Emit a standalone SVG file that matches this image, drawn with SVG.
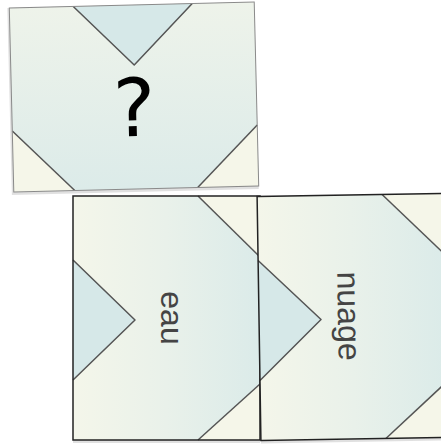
<svg xmlns="http://www.w3.org/2000/svg" width="441" height="445" viewBox="0 0 441 445">
<defs>
<linearGradient id="gh" x1="0" y1="0" x2="1" y2="0">
<stop offset="0" stop-color="#f4f6ea"/>
<stop offset="0.5" stop-color="#e9f1ea"/>
<stop offset="1" stop-color="#dbebe9"/>
</linearGradient>
<linearGradient id="gv" x1="0" y1="0" x2="0" y2="1">
<stop offset="0" stop-color="#eef3ea"/>
<stop offset="1" stop-color="#dcebe9"/>
</linearGradient>
</defs>
<style>
.cream{fill:#f5f6e9}
.tri{fill:#d6e8e8}
.diag{fill:none;stroke:#555;stroke-width:1.5;stroke-linejoin:round}
.lbl{font-family:"Liberation Sans",Arial,sans-serif;font-size:32px;fill:#444;text-anchor:middle}
.shadow{fill:#000;opacity:0.12}
</style>
<g id="tile-top" transform="rotate(-1.4 134 97)">
<rect class="shadow" x="9.5" y="5" width="247" height="187"/>
<rect x="11.5" y="5" width="245" height="184" fill="url(#gv)"/>
<polygon class="cream" points="11.5,128 72.5,189 11.5,189"/>
<polygon class="cream" points="256.5,128 195.5,189 256.5,189"/>
<polygon class="tri" points="75.5,5 194.5,5 135,65"/>
<polyline class="diag" points="75.5,5 135,65 194.5,5"/>
<line class="diag" x1="11.5" y1="128" x2="72.5" y2="189"/>
<line class="diag" x1="256.5" y1="128" x2="195.5" y2="189"/>
<rect x="11.5" y="5" width="245" height="184" fill="none" stroke="#8a8a8a" stroke-width="1"/>
<text x="134" y="136" font-family="'DejaVu Sans',sans-serif" font-size="80" fill="#000" text-anchor="middle">?</text>
</g>
<g id="tile-eau">
<rect class="shadow" x="73" y="196" width="187" height="247"/>
<rect x="73" y="196" width="187" height="244" fill="url(#gh)"/>
<polygon class="cream" points="198,196 260,257 260,196"/>
<polygon class="cream" points="260,384 198,440 260,440"/>
<polygon class="tri" points="73,260 135,320 73,380"/>
<polyline class="diag" points="73,260 135,320 73,380"/>
<line class="diag" x1="198" y1="196" x2="260" y2="257"/>
<line class="diag" x1="260" y1="384" x2="198" y2="440"/>
<rect x="73" y="196" width="187" height="244" fill="none" stroke="#222" stroke-width="1.5"/>
<text class="lbl" transform="translate(161 318) rotate(90)">eau</text>
</g>
<g id="tile-nuage" transform="rotate(-0.9 352 317)">
<rect class="shadow" x="259" y="195" width="189" height="247"/>
<rect x="259" y="195" width="187" height="244" fill="url(#gh)"/>
<polygon class="cream" points="384,195 446,256 446,195"/>
<polygon class="cream" points="446,383 384,439 446,439"/>
<polygon class="tri" points="259,259 321,319 259,379"/>
<polyline class="diag" points="259,259 321,319 259,379"/>
<line class="diag" x1="384" y1="195" x2="446" y2="256"/>
<line class="diag" x1="446" y1="383" x2="384" y2="439"/>
<rect x="259" y="195" width="187" height="244" fill="none" stroke="#222" stroke-width="1.5"/>
<text class="lbl" transform="translate(338 316) rotate(90)">nuage</text>
</g>
</svg>
